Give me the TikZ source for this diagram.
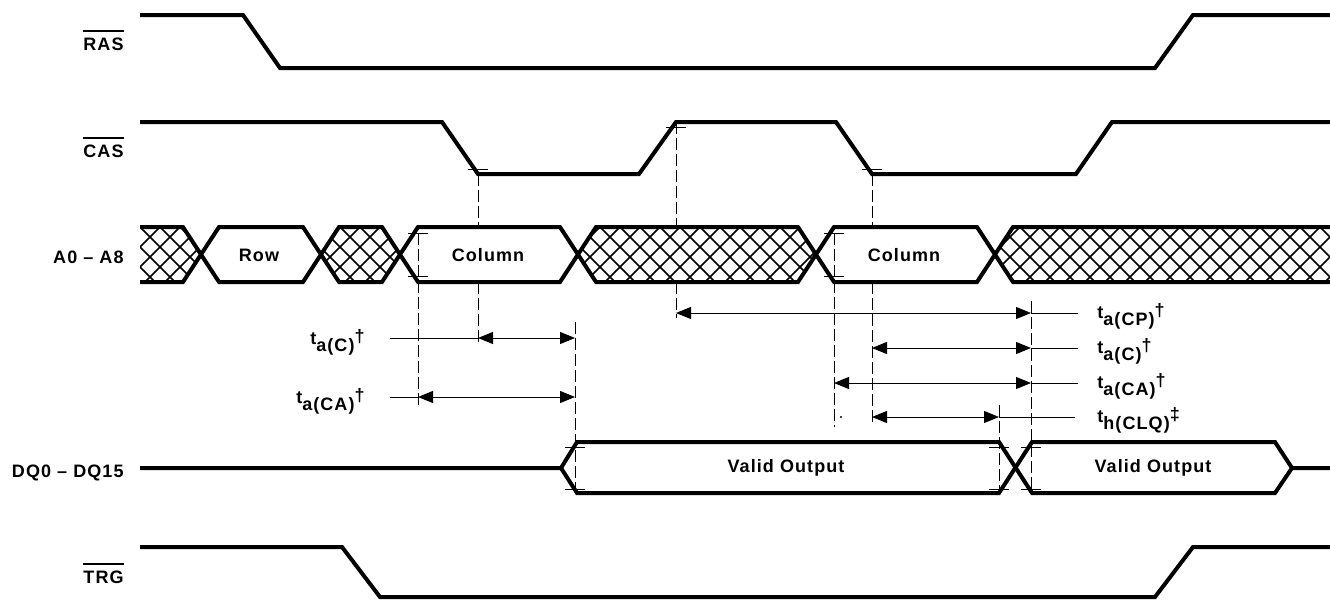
\documentclass[tikz,border=0pt]{standalone}
\usepackage{fontspec}
\setmainfont{Liberation Sans}
\newfontfamily\sigfont[LetterSpace=6,Ligatures=TeX]{Liberation Sans}
\usepackage{tikz}
\usetikzlibrary{arrows.meta}

\newcommand{\barred}[1]{\vbox{\hrule height 1pt\kern 2.5pt\hbox{#1}}}
\newcommand{\tlab}[3]{#1\raisebox{-3.5pt}{#2}\raisebox{1pt}{#3}}
\newcommand{\hatchseg}[2]{%
  \begin{scope}
    \clip (#1,254.5) -- ({#1+18},227) -- ({#2-18},227) -- (#2,254.5)
      -- ({#2-18},282) -- ({#1+18},282) -- cycle;
    \foreach \k in {100,120,...,1400}
      \draw[xhatch] (\k,227) -- ++(55,55) (\k,227) -- ++(-55,55);
  \end{scope}}
\newcommand{\tickat}[1]{\draw[tickmark] #1 ++(-10,0) -- ++(20,0);}

\begin{document}
\begin{tikzpicture}[x=.5pt,y=-.5pt,
  sig/.style={line width=2pt},
  xhatch/.style={line width=.85pt},
  guide/.style={line width=.45pt,dash pattern=on 6pt off 2pt},
  tickmark/.style={line width=.45pt},
  lead/.style={line width=.5pt},
  dim/.style={line width=.5pt,{Triangle[length=7.5pt,width=6pt]}-{Triangle[length=7.5pt,width=6pt]}},
  lbl/.style={font=\sigfont\bfseries\fontsize{9}{10}\selectfont,inner sep=0pt},
  sname/.style={lbl,anchor=base east}]
  \useasboundingbox (0,0) rectangle (1330,600);

  \node[sname] (ras) at (124,50) {\barred{RAS}};
  \node[sname] (cas) at (124,157) {\barred{CAS}};
  \node[sname] (addr) at (124,263) {A0 – A8};
  \node[sname] (dq) at (124,477) {DQ0 – DQ15};
  \node[sname] (trg) at (124,583) {\barred{TRG}};

  \coordinate (busT) at (0,227);
  \coordinate (busB) at (0,282);
  \coordinate (cF1) at (478,174);
  \coordinate (cR1) at (676,122);
  \coordinate (cF2) at (872,174);
  \coordinate (col1) at (418,233);
  \coordinate (col2) at (834,233);
  \coordinate (dqA) at (575,447);
  \coordinate (dqB) at (999,447);
  \coordinate (dqC) at (1031,447);

  \draw[sig] (140,15) -- (243,15) -- (280,68) -- (1155,68) -- (1193,15) -- (1330,15);
  \draw[sig] (140,122) -- (442,122) -- (cF1) -- (639,174) -- (cR1) -- (836,122)
    -- (cF2) -- (1076,174) -- (1112,122) -- (1330,122);

  \begin{scope}
    \clip (140,220) rectangle (1330,290);
    \hatchseg{122}{201}
    \hatchseg{321}{400}
    \hatchseg{578}{816}
    \hatchseg{995}{1360}
  \end{scope}
  \draw[sig] (140,227) -- (183,227) -- (219,282) -- (303,282) -- (339,227) -- (382,227)
    -- (418,282) -- (560,282) -- (596,227) -- (798,227) -- (834,282) -- (977,282)
    -- (1013,227) -- (1330,227);
  \draw[sig] (140,282) -- (183,282) -- (219,227) -- (303,227) -- (339,282) -- (382,282)
    -- (418,227) -- (560,227) -- (596,282) -- (798,282) -- (834,227) -- (977,227)
    -- (1013,282) -- (1330,282);
  \node[lbl] (row) at (259,255) {Row};
  \node[lbl] (colA) at (488,255) {Column};
  \node[lbl] (colB) at (904,255) {Column};

  \draw[sig] (140,468) -- (561,468) -- (577,442) -- (999,442) -- (1032,493) -- (1275,493)
    -- (1292,468) -- (1330,468);
  \draw[sig] (561,468) -- (577,493) -- (999,493) -- (1032,442) -- (1275,442) -- (1292,468);
  \node[lbl] (outA) at (786,468) {Valid Output};
  \node[lbl] (outB) at (1153,468) {Valid Output};

  \draw[sig] (140,547) -- (342,547) -- (380,597) -- (1155,597) -- (1193,547) -- (1330,547);

  \draw[guide] (cF1) -- (cF1 |- busT) (cF1 |- busB) -- ([yshift=-2.5pt]cF1 |- 0,338);
  \draw[guide] (col1) -- ([yshift=-4pt]col1 |- 0,397);
  \draw[guide] ([yshift=8pt]dqA |- 0,338) -- ([yshift=-3pt]dqA |- 0,489);
  \draw[guide] (cR1) -- (cR1 |- busT) (cR1 |- busB) -- ([yshift=-2.5pt]cR1 |- 0,313);
  \draw[guide] (col2) -- ([yshift=-5pt]col2 |- 0,417);
  \draw[guide] (cF2) -- (cF2 |- busT) (cF2 |- busB) -- ([yshift=-3pt]cF2 |- 0,417);
  \draw[guide] ([yshift=6pt]dqC |- 0,313) -- ([yshift=-3pt]dqC |- 0,489);
  \draw[guide] ([yshift=6pt]dqB |- 0,417) -- ([yshift=-3pt]dqB |- 0,489);

  \tickat{([yshift=2.5pt]cF1)}
  \tickat{([yshift=-2.5pt]cR1)}
  \tickat{([yshift=2.5pt]cF2)}
  \tickat{(col1)} \tickat{(col1 |- 0,276)}
  \tickat{(col2)} \tickat{(col2 |- 0,276)}
  \tickat{(dqA)} \tickat{(dqA |- 0,489)}
  \tickat{(dqB)} \tickat{(dqB |- 0,489)}
  \tickat{(dqC)} \tickat{(dqC |- 0,489)}

  \coordinate (yC) at (390,338);
  \coordinate (yCA) at (390,397);
  \coordinate (yCP) at (1078,313);
  \coordinate (yC2) at (1078,348);
  \coordinate (yCA2) at (1078,383);
  \coordinate (yH) at (1075,417);

  \node[lbl,anchor=base east] (tC) at ([xshift=-12.5pt,yshift=-3pt]yC) {\tlab{t}{a(C)}{†}};
  \node[lbl,anchor=base east] (tCA) at ([xshift=-12.5pt,yshift=-3pt]yCA) {\tlab{t}{a(CA)}{†}};
  \draw[lead] (yC) -- (cF1 |- yC);
  \draw[dim] (cF1 |- yC) -- (dqA |- yC);
  \draw[lead] (yCA) -- (col1 |- yCA);
  \draw[dim] (col1 |- yCA) -- (dqA |- yCA);

  \node[lbl,anchor=base west] (tCP) at ([xshift=9.5pt,yshift=-2.5pt]yCP) {\tlab{t}{a(CP)}{†}};
  \node[lbl,anchor=base west] (tC2) at ([xshift=9.5pt,yshift=-2.5pt]yC2) {\tlab{t}{a(C)}{†}};
  \node[lbl,anchor=base west] (tCA2) at ([xshift=9.5pt,yshift=-2.5pt]yCA2) {\tlab{t}{a(CA)}{†}};
  \node[lbl,anchor=base west] (tH) at ([xshift=11pt,yshift=-2.5pt]yH) {\tlab{t}{h(CLQ)}{‡}};
  \draw[dim] (cR1 |- yCP) -- (dqC |- yCP);
  \draw[lead] (dqC |- yCP) -- (yCP);
  \draw[dim] (cF2 |- yC2) -- (dqC |- yC2);
  \draw[lead] (dqC |- yC2) -- (yC2);
  \draw[dim] (col2 |- yCA2) -- (dqC |- yCA2);
  \draw[lead] (dqC |- yCA2) -- (yCA2);
  \draw[dim] (cF2 |- yH) -- (dqB |- yH);
  \draw[lead] (dqB |- yH) -- (yH);
  \fill (841,417) circle (.6pt);
\end{tikzpicture}
\end{document}
